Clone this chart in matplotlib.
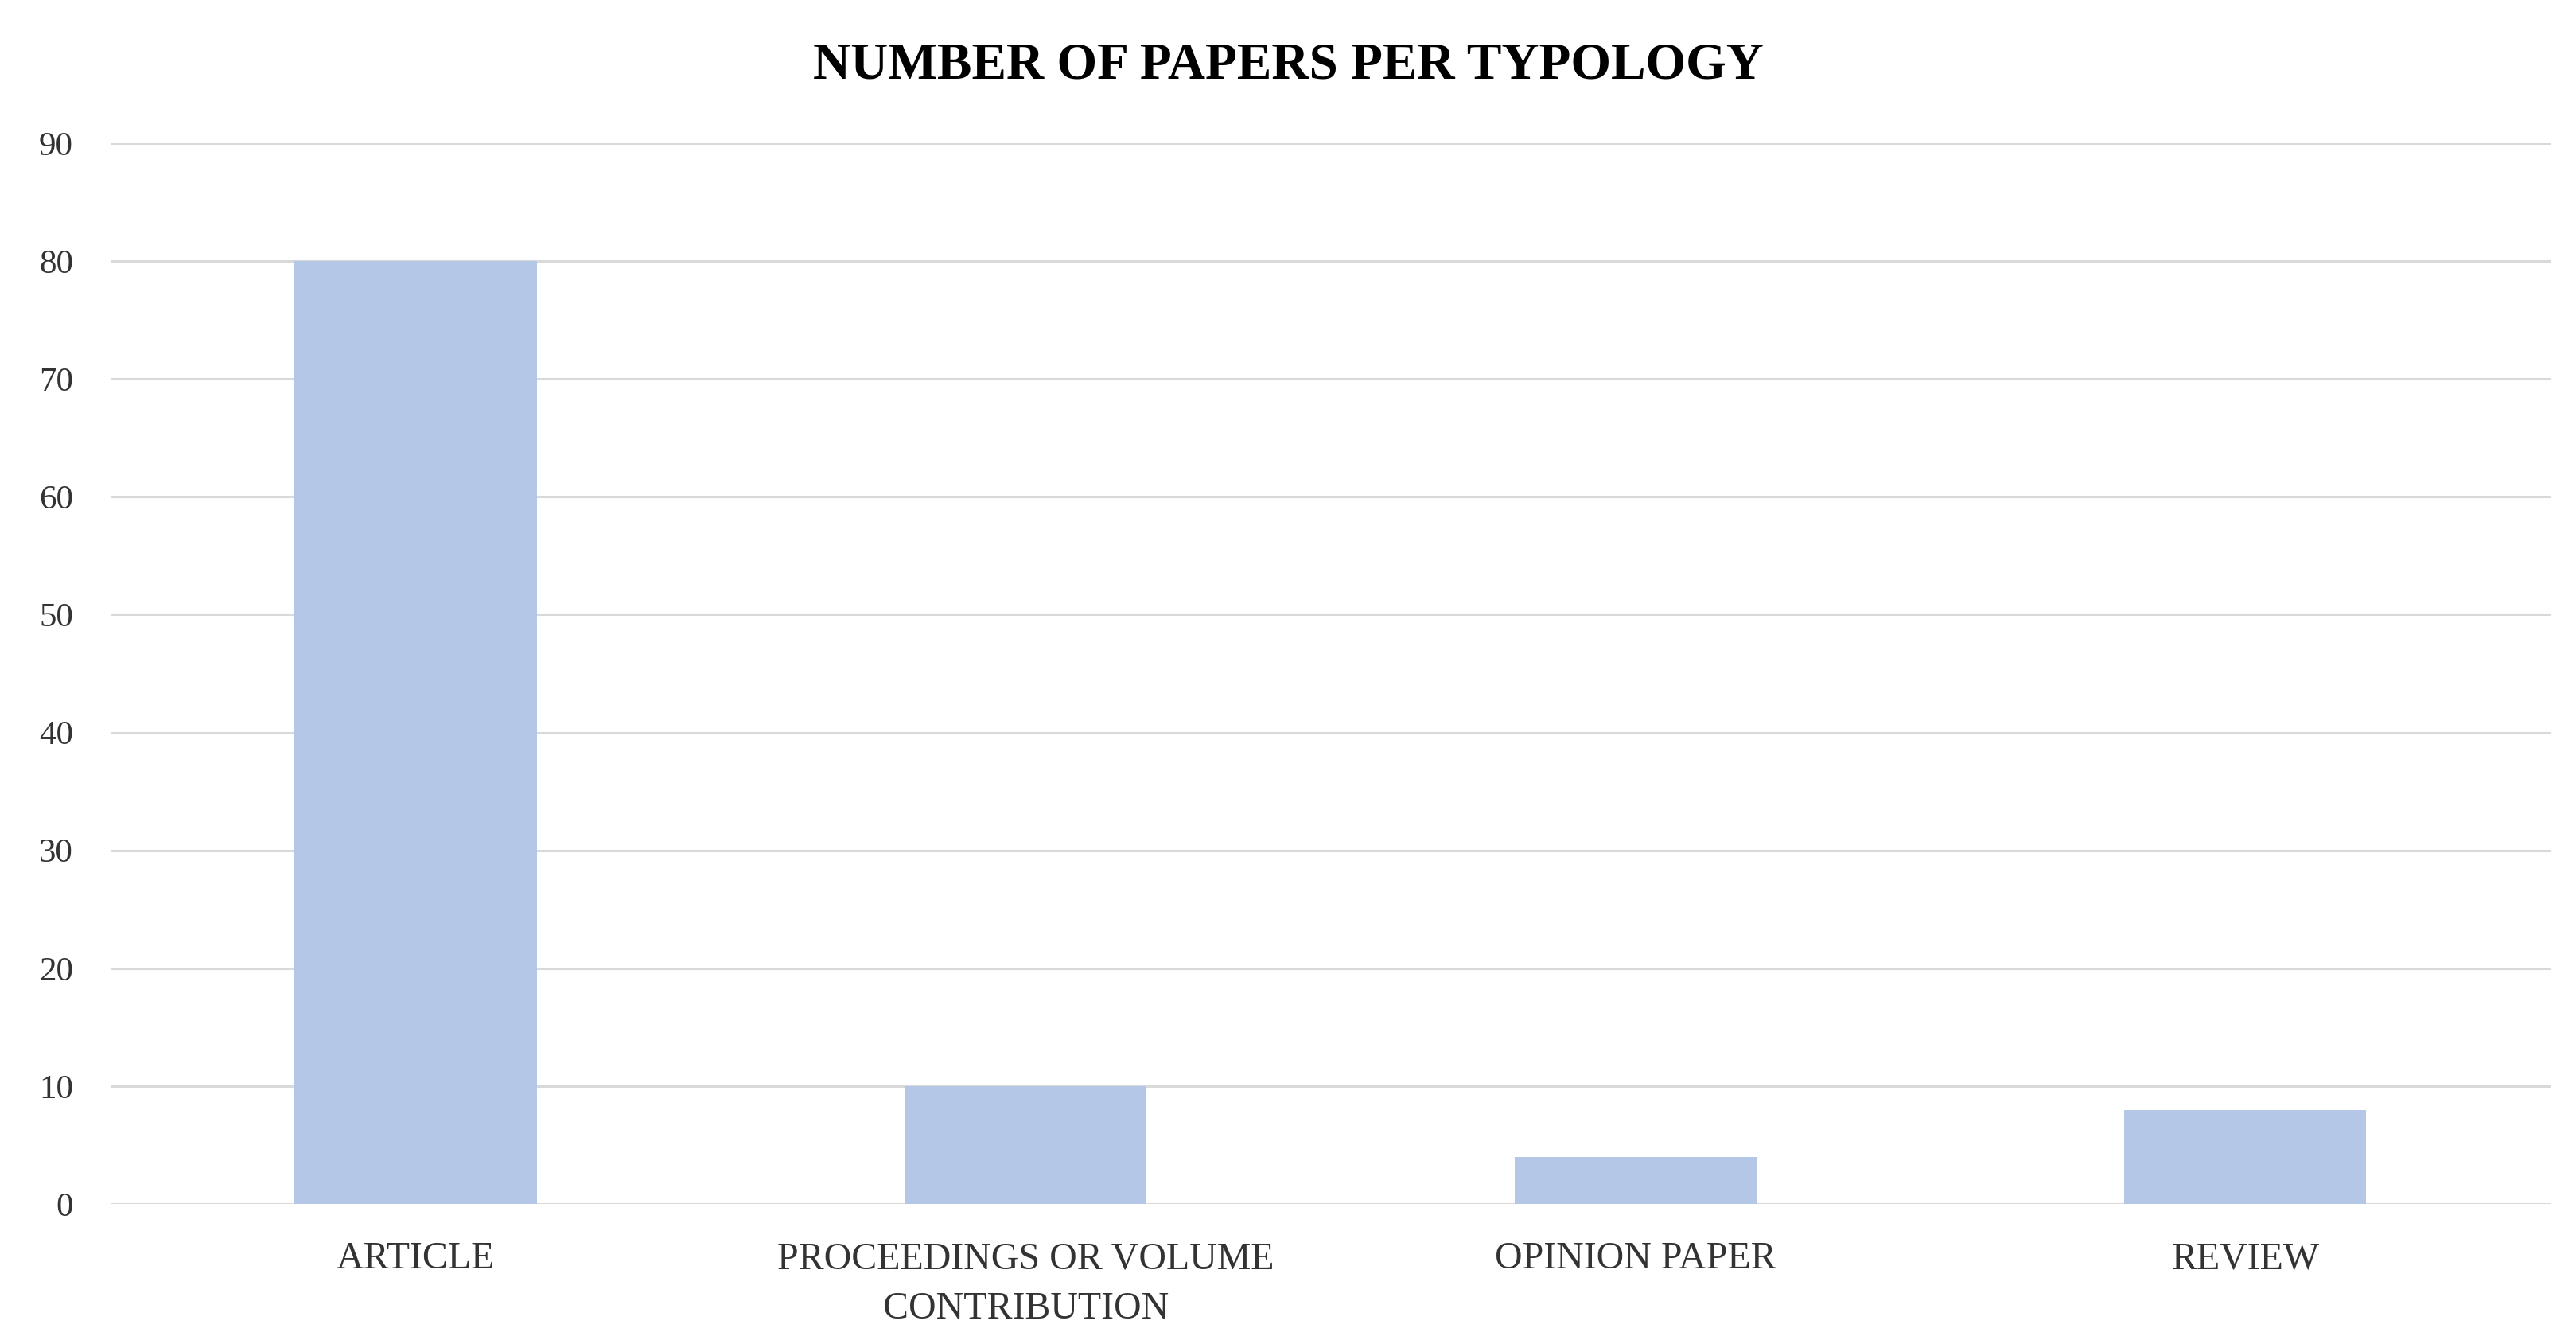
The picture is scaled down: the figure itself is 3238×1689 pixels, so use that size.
import matplotlib
matplotlib.use("Agg")
import matplotlib.pyplot as plt

categories = ["ARTICLE", "PROCEEDINGS OR VOLUME\nCONTRIBUTION", "OPINION PAPER", "REVIEW"]
values = [80, 10, 4, 8]
yticks = [0, 10, 20, 30, 40, 50, 60, 70, 80, 90]
title = "NUMBER OF PAPERS PER TYPOLOGY"

plt.rcParams['font.family'] = ['Liberation Serif', 'DejaVu Serif']

fig = plt.figure(figsize=(32.38, 16.89), dpi=100)
ax = fig.add_axes([0.043, 0.1042, 0.947, 0.7892])
x = list(range(len(categories)))
ax.bar(x, values, width=0.397, color="#b4c7e7", zorder=3)
ax.set_xlim(-0.5, len(categories) - 0.5)
ax.set_ylim(0, 90)
ax.set_yticks(yticks)
ax.set_yticklabels([str(t) for t in yticks], fontsize=31, color="#333333")
ax.set_xticks(x)
ax.set_xticklabels(categories, fontsize=34.5, color="#333333", linespacing=1.55, va="top")
ax.tick_params(axis='both', length=0)
ax.tick_params(axis='y', pad=34)
ax.tick_params(axis='x', pad=34)
ax.grid(axis='y', color="#d9d9d9", linewidth=2.2, zorder=0)
for s in ax.spines.values():
    s.set_visible(False)
fig.text(0.5, 0.951, title, ha='center', va='center', fontsize=47, fontweight='bold', color="#000000")
fig.savefig("out.png", dpi=100, facecolor="white")
